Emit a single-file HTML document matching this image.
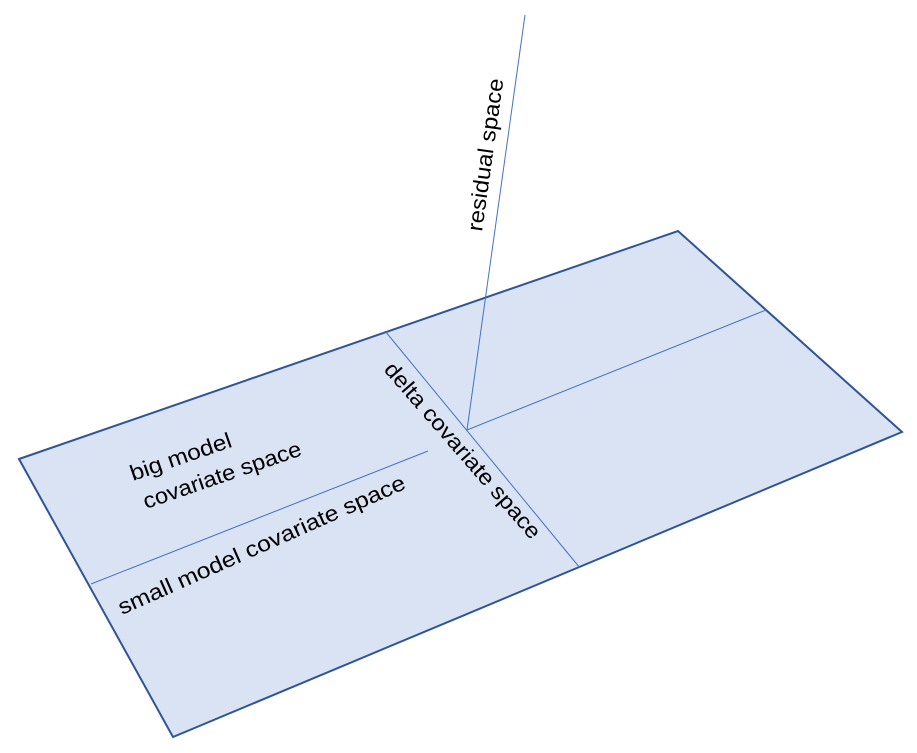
<!DOCTYPE html>
<html><head><meta charset="utf-8"><style>html,body{margin:0;padding:0;background:#fff}svg{display:block}text{font-family:"Liberation Sans",sans-serif;font-size:22px;fill:#000}</style></head>
<body>
<svg width="917" height="753" viewBox="0 0 917 753">
<polygon points="19,459 678,231 902,432 173,737" fill="#dae3f3" stroke="#2f5597" stroke-width="2"/>
<line x1="385" y1="331" x2="580" y2="568" stroke="#4472c4" stroke-width="1"/>
<line x1="91" y1="584" x2="428" y2="451" stroke="#4472c4" stroke-width="1"/>
<line x1="467" y1="430" x2="766" y2="310" stroke="#4472c4" stroke-width="1"/>
<line x1="467" y1="430" x2="525" y2="15" stroke="#4472c4" stroke-width="1"/>
<text transform="translate(482,232) rotate(-82)" textLength="154" lengthAdjust="spacingAndGlyphs">residual space</text>
<text transform="translate(133,481) rotate(-19)" textLength="106" lengthAdjust="spacingAndGlyphs">big model</text>
<text transform="translate(146,509) rotate(-19)" textLength="166" lengthAdjust="spacingAndGlyphs">covariate space</text>
<text transform="translate(122,615) rotate(-24)" textLength="312" lengthAdjust="spacingAndGlyphs">small model covariate space</text>
<text transform="translate(383,370) rotate(49)" textLength="226" lengthAdjust="spacingAndGlyphs">delta covariate space</text>
</svg>
</body></html>
